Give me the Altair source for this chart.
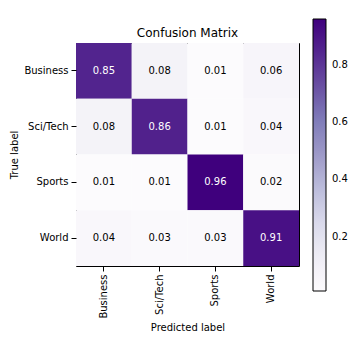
import altair as alt
import pandas as pd

true_labels = ["Business", "Sci/Tech", "Sports", "World"]
pred_labels = ["Business", "Sci/Tech", "Sports", "World"]
matrix = [
    [0.85, 0.08, 0.01, 0.06],
    [0.08, 0.86, 0.01, 0.04],
    [0.01, 0.01, 0.96, 0.02],
    [0.04, 0.03, 0.03, 0.91],
]
purples = ["#fcfbfd", "#efedf5", "#dadaeb", "#bcbddc", "#9e9ac8",
           "#807dba", "#6a51a3", "#54278f", "#3f007d"]

rows = []
for i, t in enumerate(true_labels):
    for j, p in enumerate(pred_labels):
        rows.append({"true": t, "pred": p, "value": matrix[i][j]})
df = pd.DataFrame(rows)
vmin = min(min(r) for r in matrix)
vmax = max(max(r) for r in matrix)
thresh = vmax / 2
stops = [vmin + (vmax - vmin) * k / (len(purples) - 1) for k in range(len(purples))]

FONT = "DejaVu Sans"

base = alt.Chart(df).encode(
    x=alt.X("pred:N", sort=pred_labels, title="Predicted label",
            scale=alt.Scale(paddingInner=0, paddingOuter=0),
            axis=alt.Axis(labelAngle=-90, labelFontSize=10, titleFontSize=10,
                          titleFontWeight="normal", labelColor="black", titleColor="black",
                          tickColor="black", domain=False, labelPadding=3, titlePadding=4)),
    y=alt.Y("true:N", sort=true_labels, title="True label",
            scale=alt.Scale(paddingInner=0, paddingOuter=0),
            axis=alt.Axis(labelFontSize=10, titleFontSize=10, titleFontWeight="normal",
                          labelColor="black", titleColor="black", tickColor="black",
                          domain=False, labelPadding=3, titlePadding=4)),
)

heat = base.mark_rect(strokeWidth=0).encode(
    color=alt.Color("value:Q",
                    scale=alt.Scale(domain=stops, range=purples, interpolate="rgb"),
                    legend=alt.Legend(
                        title=None, orient="none", legendX=237, legendY=-24,
                        gradientLength=272, gradientThickness=13,
                        gradientStrokeColor="black", gradientStrokeWidth=1,
                        values=[0.2, 0.4, 0.6, 0.8], labelFontSize=10,
                        labelColor="black", labelOffset=6, direction="vertical",
                        format=".1f")),
)

text = base.mark_text(fontSize=10, font=FONT).encode(
    text=alt.Text("value:Q", format=".2f"),
    color=alt.condition(alt.datum.value > thresh, alt.value("white"), alt.value("black")),
)

chart = (heat + text).properties(
    width=223, height=223,
    title=alt.TitleParams("Confusion Matrix", fontSize=12, fontWeight="normal",
                          font=FONT, color="black", offset=-21, frame="group",
                          anchor="middle"),
    autosize=alt.AutoSizeParams(type="none"),
    padding={"left": 76, "top": 43, "right": 63, "bottom": 85},
).configure(font=FONT).configure_view(stroke="black", strokeWidth=1).configure_axis(
    labelFont=FONT, titleFont=FONT, grid=False
).configure_legend(labelFont=FONT)

chart.save("out.html", embed_options={"renderer": "svg", "actions": False})
